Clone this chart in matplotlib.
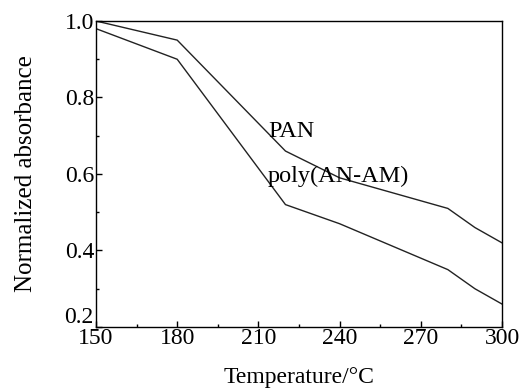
#!/usr/bin/env python3
''' normalized absorbance vs temperature '''

import matplotlib
matplotlib.use('Agg')
import matplotlib.pyplot as plt
from matplotlib.ticker import MultipleLocator, FuncFormatter

plt.rcParams['font.family'] = ['Liberation Serif', 'DejaVu Serif']

temp_pan = [150, 180, 220, 240, 260, 280, 290, 300]
abs_pan = [1.0, 0.95, 0.66, 0.59, 0.55, 0.51, 0.46, 0.42]
temp_poly = [150, 180, 220, 240, 260, 280, 290, 300]
abs_poly = [0.98, 0.90, 0.52, 0.47, 0.41, 0.35, 0.30, 0.26]

fig = plt.figure(figsize=(5.29, 3.92), dpi=100)
ax = fig.add_axes([96 / 529, 1 - 327 / 392, 406 / 529, 306 / 392])

ax.plot(temp_pan, abs_pan, color='#222222', lw=1.0)
ax.plot(temp_poly, abs_poly, color='#222222', lw=1.0)

ax.text(213.5, 0.71, 'PAN', fontsize=17.5, va='center', ha='left')
ax.text(213.5, 0.593, 'poly(AN-AM)', fontsize=17.5, va='center', ha='left')

ax.set_xlim(150, 300)
ax.set_ylim(0.2, 1.0)
ax.xaxis.set_major_locator(MultipleLocator(30))
ax.xaxis.set_minor_locator(MultipleLocator(15))
ax.yaxis.set_major_locator(MultipleLocator(0.2))
ax.yaxis.set_minor_locator(MultipleLocator(0.1))
# the lowest y label is placed by hand below, sitting above "150"
ax.yaxis.set_major_formatter(FuncFormatter(lambda v, p: '' if v < 0.3 else '%.1f' % v))
ax.annotate('0.2', xy=(0, 0.2), xycoords=('axes fraction', 'data'),
            xytext=(-2, -1), textcoords='offset points',
            ha='right', va='bottom', fontsize=17)
ax.tick_params(which='both', direction='in', top=False, right=False, labelsize=17)
ax.tick_params(which='major', length=4, width=1, pad=1)
ax.tick_params(which='minor', length=2.5, width=1)
for s in ax.spines.values():
    s.set_linewidth(1.0)

ax.set_xlabel('Temperature/°C', fontsize=17, labelpad=13)
ax.set_ylabel('Normalized absorbance', fontsize=18, labelpad=20)

fig.savefig('out.png', dpi=100)
